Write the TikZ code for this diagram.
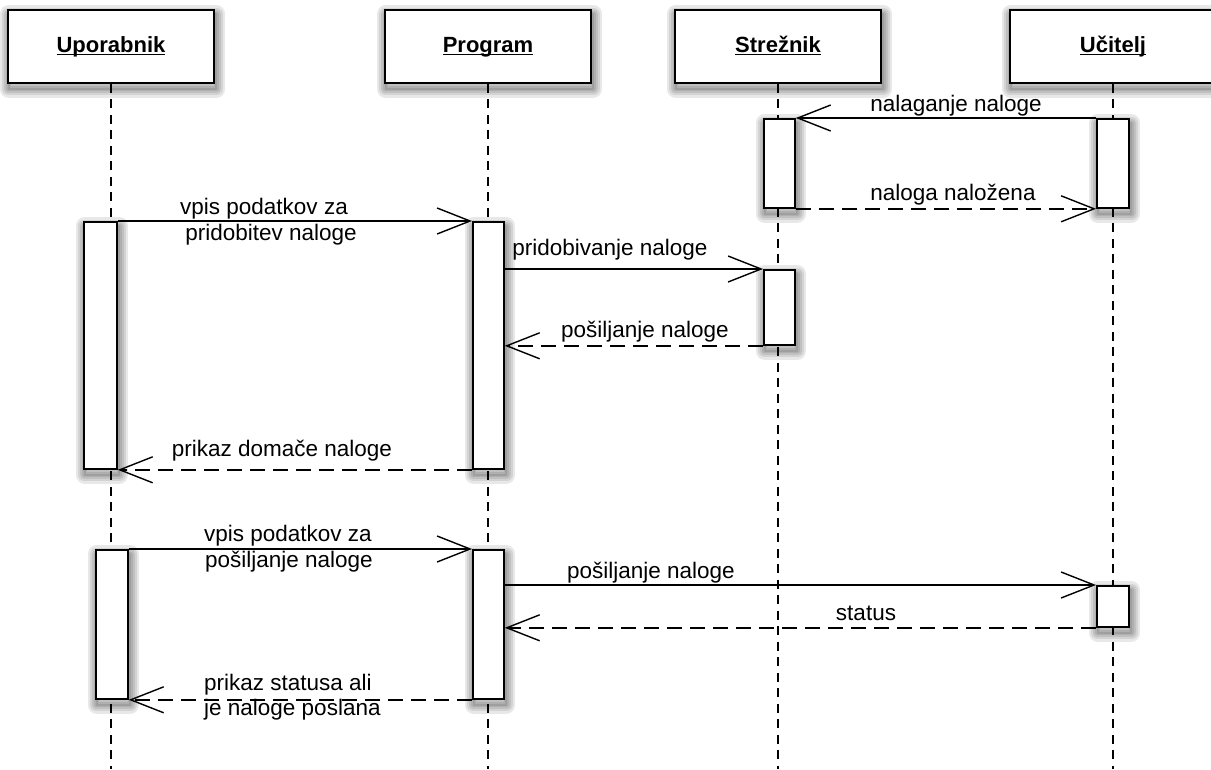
\documentclass[tikz,border=0pt]{standalone}
\usepackage{fontspec}
\setmainfont{Liberation Sans}
\usetikzlibrary{arrows.meta}

\pgfdeclarelayer{lines}
\pgfdeclarelayer{shade}
\pgfsetlayers{lines,shade,main}

% bold name with an underline that cuts through the descenders
\newcommand{\hdrline}[1]{\setbox0\hbox{#1}\rlap{\copy0}\rule[-3.2pt]{\wd0}{1.6pt}}

\begin{document}
\begin{tikzpicture}[x=1pt,y=-1pt,
  head/.style={draw, line width=1.8pt, fill=white, minimum width=206pt, minimum height=73pt,
    text height=16pt, text depth=5pt, inner sep=0pt, font=\fontsize{22}{26}\selectfont\bfseries},
  act/.style={draw, line width=1.8pt, fill=white, inner sep=0pt, anchor=north west},
  life/.style={line width=1.3pt, dash pattern=on 9pt off 6.5pt},
  msg/.style={line width=1.4pt, -{Straight Barb[length=33pt,width=26pt,line width=1.4pt]}},
  reply/.style={msg, dash pattern=on 15pt off 8pt},
  lbl/.style={font=\fontsize{22.5}{27}\selectfont, inner sep=0pt, anchor=base},
  lblw/.style={lbl, anchor=base west},
  haze/.style={black, draw opacity=0.09, line join=round},
]
\useasboundingbox (0,0) rectangle (1211,769);

% participants
\node[head] (hU) at (111,46.5) {\hdrline{Uporabnik}};
\node[head] (hP) at (488,46.5) {\hdrline{Program}};
\node[head] (hS) at (778,46.5) {\hdrline{Strežnik}};
\node[head] (hT) at (1113,46.5) {\hdrline{Učitelj}};

% activation bars
\node[act, minimum width=31pt, minimum height=89pt]  (s1)  at (763,118) {};
\node[act, minimum width=32pt, minimum height=89pt]  (t1)  at (1096,118) {};
\node[act, minimum width=33pt, minimum height=247pt] (u1)  at (83,221) {};
\node[act, minimum width=31pt, minimum height=247pt] (p1)  at (472,221) {};
\node[act, minimum width=31pt, minimum height=75pt]  (s2)  at (763,269) {};
\node[act, minimum width=32pt, minimum height=149pt] (u2)  at (95,549) {};
\node[act, minimum width=31pt, minimum height=149pt] (p2)  at (472,549) {};
\node[act, minimum width=32pt, minimum height=41pt]  (t2)  at (1096,585) {};

% lifelines
\coordinate (eU) at (111,769);
\coordinate (eP) at (488,769);
\coordinate (eS) at (778,769);
\coordinate (eT) at (1113,769);
\begin{pgfonlayer}{lines}
\draw[life] (hU.south) -- (eU);
\draw[life] (hP.south) -- (eP);
\draw[life] (hS.south) -- (eS);
\draw[life] (hT.south) -- (eT);
\end{pgfonlayer}

% soft drop shadows under every box
\begin{pgfonlayer}{shade}
\foreach \n in {hU,hP,hS,hT,s1,t1,u1,p1,s2,u2,p2,t2}{
  \foreach \w in {18,13,9,5,2}{
    \draw[haze, line width=\w pt]
      ([shift={(1.5pt,-5pt)}]\n.north west) rectangle ([shift={(1.5pt,-5pt)}]\n.south east);
  }
}
\end{pgfonlayer}

% messages
\draw[msg]   (t1.north west) -- (s1.north east);
\draw[reply] (s1.south east) -- (t1.south west);
\draw[msg]   (u1.north east) -- (p1.north west);
\draw[msg]   (p1.east |- s2.north) -- (s2.north west);
\draw[reply] (s2.south west) -- (p1.east |- s2.south);
\draw[reply] (p1.south west) -- (u1.south east);
\draw[msg]   (u2.north east) -- (p2.north west);
\draw[msg]   (p2.east |- t2.north) -- (t2.north west);
\draw[reply] (t2.south west) -- (p2.east |- t2.south);
\draw[reply] (p2.south west) -- (u2.south east);

% message labels
\node[lbl] (m1)  at (956,111) {nalaganje naloge};
\node[lbl] (m2)  at (953,200) {naloga naložena};
\node[lbl] (m3a) at (264,214) {vpis podatkov za};
\node[lbl] (m3b) at (271,240) {pridobitev naloge};
\node[lbl] (m4)  at (610,255) {pridobivanje naloge};
\node[lbl] (m5)  at (645,337) {pošiljanje naloge};
\node[lbl] (m6)  at (282,456) {prikaz domače naloge};
\node[lbl] (m7a) at (288,541) {vpis podatkov za};
\node[lbl] (m7b) at (289,567) {pošiljanje naloge};
\node[lbl] (m8)  at (651,578) {pošiljanje naloge};
\node[lbl] (m9)  at (866,620) {status};
\node[lblw] (m10a) at (204,690) {prikaz statusa ali};
\node[lblw] (m10b) at (204,715) {je naloge poslana};
\end{tikzpicture}
\end{document}
